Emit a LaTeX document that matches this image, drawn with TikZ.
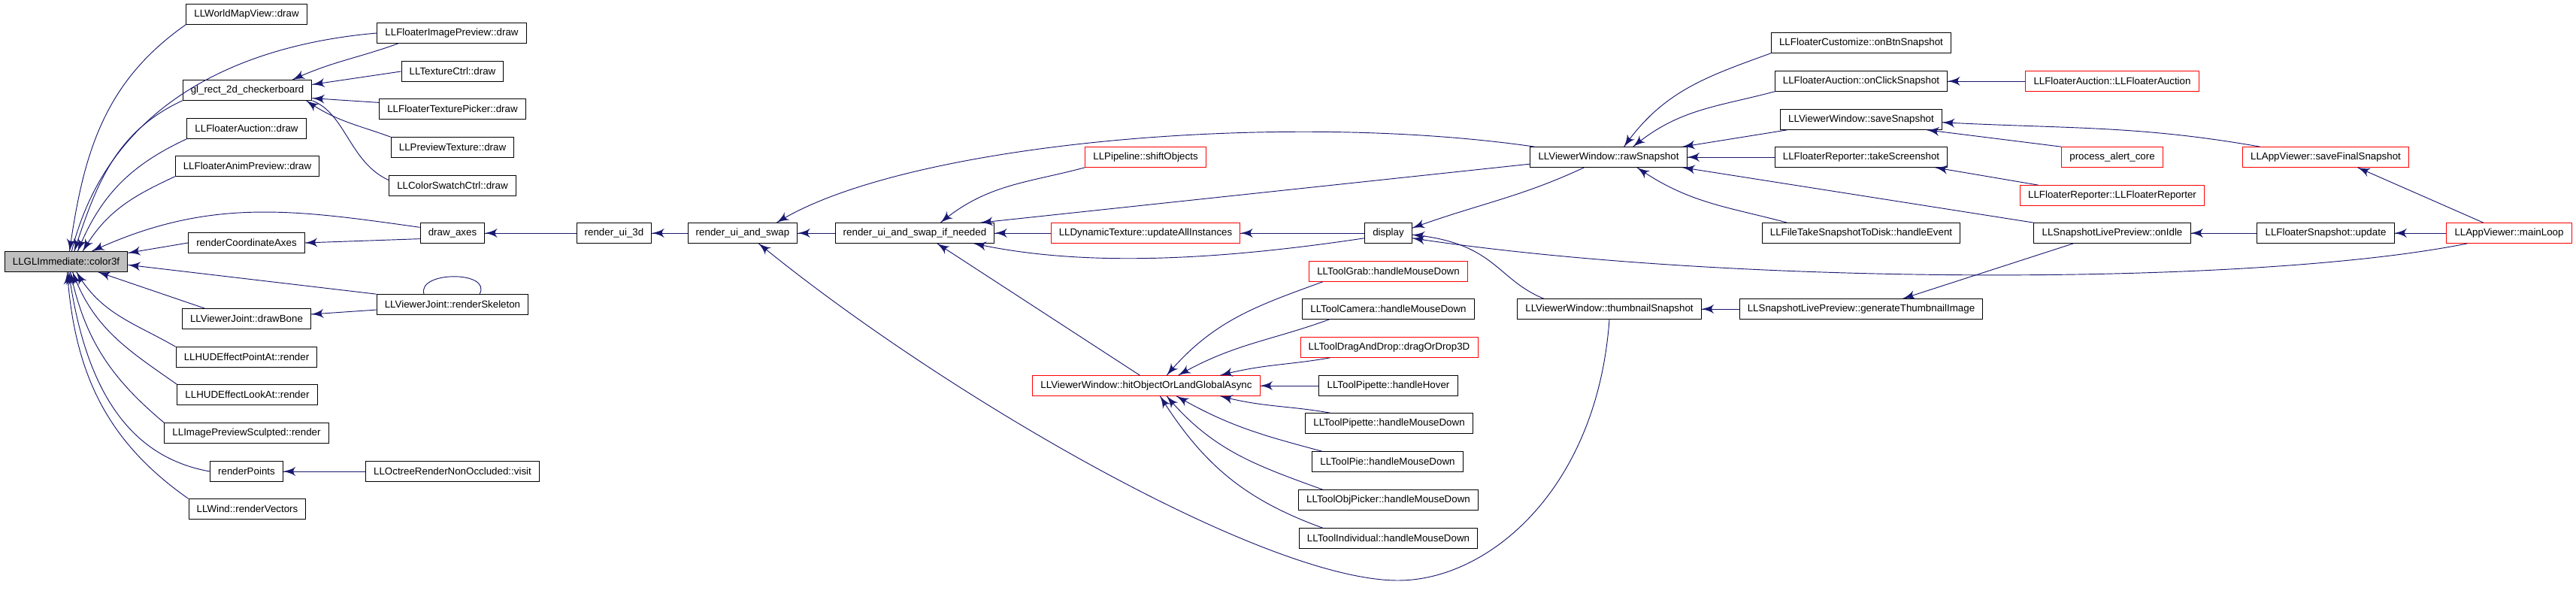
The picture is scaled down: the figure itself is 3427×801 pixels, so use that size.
\documentclass[tikz,border=0pt]{standalone}
\usepackage{fontspec}
\setmainfont{Liberation Sans}
\usepackage{tikz}
\usetikzlibrary{arrows}
\usetikzlibrary{decorations.markings}
\definecolor{edgeblue}{HTML}{191970}
\tikzset{->/.style = {edgeblue, line width = 0.7pt,
                      decoration={markings,
                                  mark=at position 1 with {\arrow[scale=2.5]{latex'}}},
                      postaction={decorate}}}
\tikzset{func/.style = {draw, line width = 0.75pt, minimum height = 20pt,
                        inner xsep = 8pt, inner ysep = 0pt}}
\tikzset{funcred/.style = {func, draw = red}}
\tikzset{funcroot/.style = {func, fill = black!25}}

\begin{document}
\begin{tikzpicture}[x = 0.75pt, y = 0.75pt]
      \useasboundingbox (0, 0) rectangle (3427, 801);
      \node [funcroot] (c3f) at (88, 453) {LLGLImmediate::color3f};
      \node [func] (worldmap) at (328, 782) {LLWorldMapView::draw};
      \node [func] (glrect) at (329, 681) {gl\_rect\_2d\_checkerboard};
      \node [func] (aucdraw) at (328, 630) {LLFloaterAuction::draw};
      \node [func] (animprev) at (329, 580) {LLFloaterAnimPreview::draw};
      \node [func] (coordaxes) at (328, 478) {renderCoordinateAxes};
      \node [func] (drawbone) at (328, 377) {LLViewerJoint::drawBone};
      \node [func] (pointat) at (328, 326) {LLHUDEffectPointAt::render};
      \node [func] (lookat) at (329, 276) {LLHUDEffectLookAt::render};
      \node [func] (sculpted) at (328, 225) {LLImagePreviewSculpted::render};
      \node [func] (points) at (328, 174) {renderPoints};
      \node [func] (wind) at (329, 124) {LLWind::renderVectors};
      \node [func] (imgprev) at (601, 757) {LLFloaterImagePreview::draw};
      \node [func] (texctrl) at (602, 706) {LLTextureCtrl::draw};
      \node [func] (texpicker) at (602, 656) {LLFloaterTexturePicker::draw};
      \node [func] (prevtex) at (602, 605) {LLPreviewTexture::draw};
      \node [func] (swatch) at (602, 554) {LLColorSwatchCtrl::draw};
      \node [func] (drawaxes) at (602, 491) {draw\_axes};
      \node [func] (skeleton) at (602, 396) {LLViewerJoint::renderSkeleton};
      \node [func] (octree) at (602, 174) {LLOctreeRenderNonOccluded::visit};
      \node [func] (ui3d) at (817, 491) {render\_ui\_3d};
      \node [func] (uiswap) at (988, 491) {render\_ui\_and\_swap};
      \node [func] (uiswapif) at (1217, 491) {render\_ui\_and\_swap\_if\_needed};
      \node [funcred] (shiftobj) at (1524, 592) {LLPipeline::shiftObjects};
      \node [funcred] (dyntex) at (1524, 491) {LLDynamicTexture::updateAllInstances};
      \node [funcred] (hitobj) at (1525, 288) {LLViewerWindow::hitObjectOrLandGlobalAsync};
      \node [func] (display) at (1847, 491) {display};
      \node [funcred] (toolgrab) at (1847, 440) {LLToolGrab::handleMouseDown};
      \node [func] (toolcam) at (1847, 390) {LLToolCamera::handleMouseDown};
      \node [funcred] (tooldnd) at (1848, 339) {LLToolDragAndDrop::dragOrDrop3D};
      \node [func] (pipehover) at (1847, 288) {LLToolPipette::handleHover};
      \node [func] (pipedown) at (1848, 238) {LLToolPipette::handleMouseDown};
      \node [func] (toolpie) at (1846, 187) {LLToolPie::handleMouseDown};
      \node [func] (objpicker) at (1847, 136) {LLToolObjPicker::handleMouseDown};
      \node [func] (individual) at (1847, 85) {LLToolIndividual::handleMouseDown};
      \node [func] (rawsnap) at (2140, 592) {LLViewerWindow::rawSnapshot};
      \node [func] (thumbsnap) at (2141, 390) {LLViewerWindow::thumbnailSnapshot};
      \node [func] (customize) at (2476, 744) {LLFloaterCustomize::onBtnSnapshot};
      \node [func] (aucsnap) at (2476, 693) {LLFloaterAuction::onClickSnapshot};
      \node [func] (savesnap) at (2476, 642) {LLViewerWindow::saveSnapshot};
      \node [func] (takeshot) at (2476, 592) {LLFloaterReporter::takeScreenshot};
      \node [func] (takedisk) at (2476, 491) {LLFileTakeSnapshotToDisk::handleEvent};
      \node [func] (genthumb) at (2476, 390) {LLSnapshotLivePreview::generateThumbnailImage};
      \node [funcred] (aucctor) at (2810, 693) {LLFloaterAuction::LLFloaterAuction};
      \node [funcred] (alertcore) at (2810, 592) {process\_alert\_core};
      \node [funcred] (repctor) at (2810, 541) {LLFloaterReporter::LLFloaterReporter};
      \node [func] (onidle) at (2810, 491) {LLSnapshotLivePreview::onIdle};
      \node [funcred] (savefinal) at (3094, 592) {LLAppViewer::saveFinalSnapshot};
      \node [func] (snapupdate) at (3094, 491) {LLFloaterSnapshot::update};
      \node [funcred] (mainloop) at (3338, 491) {LLAppViewer::mainLoop};

      \draw [->] (worldmap.south west) to [out = 215, in = 82] (c3f.72);
      \draw [->] (imgprev.west) to [out = 185, in = 76] (c3f.62);
      \draw [->] (glrect.south west) to [out = 205, in = 72] (c3f.52);
      \draw [->] (aucdraw.south west) to [out = 205, in = 68] (c3f.42);
      \draw [->] (animprev.south west) to [out = 205, in = 60] (c3f.32);
      \draw [->] (drawaxes.170) to [out = 172, in = 25] (c3f.22);
      \draw [->] (coordaxes.west) -- (c3f.8);
      \draw [->] (skeleton.north west) -- (c3f.-3);
      \draw [->] (drawbone.166) -- (c3f.-18);
      \draw [->] (pointat.north west) to [out = 150, in = -60] (c3f.-45);
      \draw [->] (lookat.north west) to [out = 145, in = -70] (c3f.-58);
      \draw [->] (sculpted.north west) to [out = 140, in = -78] (c3f.-68);
      \draw [->] (points.west) to [out = 170, in = -82] (c3f.-76);
      \draw [->] (wind.north west) to [out = 145, in = -86] (c3f.-84);

      \draw [->] (imgprev.191) to [out = 200, in = 25] (glrect.13);
      \draw [->] (texctrl.west) -- (glrect.5);
      \draw [->] (texpicker.175) -- (glrect.-7);
      \draw [->] (prevtex.north west) to [out = 160, in = -35] (glrect.-10);
      \draw [->] (swatch.175) .. controls (465, 585) and (460, 650) .. (glrect.south east);
      \draw [->] (drawaxes.190) -- (coordaxes.east);
      \draw [->] (skeleton.184) -- (drawbone.4);
      \draw [->] (skeleton.21) .. controls (655, 441) and (555, 441) .. (skeleton.160);
      \draw [->] (octree) -- (points);

      \draw [->] (ui3d) -- (drawaxes);
      \draw [->] (uiswap) -- (ui3d);
      \draw [->] (uiswapif) -- (uiswap);
      \draw [->] (rawsnap.172) .. controls (1700, 655) and (1200, 610) .. (uiswap.17);
      \draw [->] (thumbsnap.south) .. controls (2125, 150) and (1980, 29) .. (1860, 29)
                 .. controls (1680, 29) and (1250, 280) .. (uiswap.-33);
      \draw [->] (shiftobj.south west) to [out = 195, in = 40] (uiswapif.22);
      \draw [->] (rawsnap.185) -- (uiswapif.9);
      \draw [->] (dyntex) -- (uiswapif);
      \draw [->] (display.192) .. controls (1620, 455) and (1440, 445) .. (uiswapif.-10);
      \draw [->] (hitobj.122) -- (uiswapif.-25);
      \draw [->] (display) -- (dyntex);

      \draw [->] (toolgrab.189) to [out = 200, in = 50] (hitobj.27);
      \draw [->] (toolcam.190) to [out = 200, in = 30] (hitobj.18);
      \draw [->] (tooldnd.190) to [out = 190, in = 15] (hitobj.8);
      \draw [->] (pipehover) -- (hitobj);
      \draw [->] (pipedown.170) to [out = 170, in = -15] (hitobj.-8);
      \draw [->] (toolpie.171) to [out = 165, in = -30] (hitobj.-19);
      \draw [->] (objpicker.171) to [out = 160, in = -50] (hitobj.-27);
      \draw [->] (individual.171) to [out = 160, in = -58] (hitobj.-37);

      \draw [->] (rawsnap.203) to [out = 205, in = 20] (display.12);
      \draw [->] (thumbsnap.171) .. controls (1990, 430) and (1990, 478) .. (display.-4);
      \draw [->] (mainloop.194) .. controls (3000, 420) and (2300, 420) .. (display.-12);

      \draw [->] (customize.south west) to [out = 200, in = 55] (rawsnap.34);
      \draw [->] (aucsnap.south west) to [out = 195, in = 40] (rawsnap.23);
      \draw [->] (savesnap.188) -- (rawsnap.8);
      \draw [->] (takeshot) -- (rawsnap);
      \draw [->] (takedisk.172) to [out = 165, in = -35] (rawsnap.-20);
      \draw [->] (onidle.north west) -- (rawsnap.-8);
      \draw [->] (aucctor) -- (aucsnap);
      \draw [->] (savefinal.171) to [out = 170, in = -3] (savesnap.-2);
      \draw [->] (alertcore.north west) -- (savesnap.-9);
      \draw [->] (repctor.172) -- (takeshot.-8);
      \draw [->] (genthumb) -- (thumbsnap);
      \draw [->] (onidle.195) -- (genthumb.14);
      \draw [->] (snapupdate) -- (onidle);
      \draw [->] (mainloop) -- (snapupdate);
      \draw [->] (mainloop.158) -- (savefinal.-18);
    \end{tikzpicture}
\end{document}
